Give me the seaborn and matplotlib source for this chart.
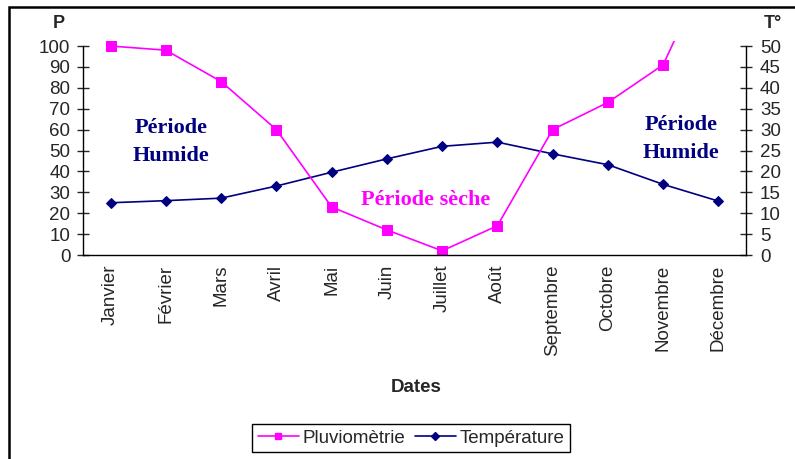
import numpy as np
import pandas as pd
import matplotlib
matplotlib.use("Agg")
import matplotlib.pyplot as plt
from matplotlib.patches import Rectangle
from matplotlib.lines import Line2D
import seaborn as sns

# Données
mois = ["Janvier", "Février", "Mars", "Avril", "Mai", "Juin", "Juillet",
        "Août", "Septembre", "Octobre", "Novembre", "Décembre"]
pluviometrie = [100, 98, 83, 60, 23, 12, 2, 14, 60, 73, 91, 148]
temperature = [12.5, 13, 13.6, 16.5, 19.8, 23, 26, 27, 24.2, 21.6, 16.9, 12.9]

p_ticks = list(range(0, 101, 10))
t_ticks = list(range(0, 51, 5))

sns.set_style("white")
plt.rcParams['font.family'] = ['Liberation Sans', 'DejaVu Sans']

df = pd.DataFrame({"pos": np.arange(len(mois)), "mois": mois,
                   "P": pluviometrie, "T": temperature})

MAGENTA = "#FF00FF"
NAVY = "#000080"

fig = plt.figure(figsize=(7.95, 4.59), dpi=100)
ax = fig.add_axes([83 / 795, 1 - 255 / 459, (746 - 83) / 795, (255 - 41) / 459])
ax2 = ax.twinx()

sns.lineplot(data=df, x="pos", y="P", ax=ax, color=MAGENTA, marker="s",
             markersize=6.5, markeredgecolor=MAGENTA, linewidth=1.2, legend=False)
sns.lineplot(data=df, x="pos", y="T", ax=ax2, color=NAVY, marker="D",
             markersize=5.5, markeredgecolor=NAVY, linewidth=1.2, legend=False)
ax.set_zorder(ax2.get_zorder() + 1)
ax.patch.set_visible(False)

ax.set_xlim(-0.5, len(mois) - 0.5)
ax.set_ylim(0, 102.4)
ax2.set_ylim(0, 51.2)

ax.set_xticks(df["pos"])
ax.set_xticklabels(mois, rotation=90, fontsize=13.5, va="top")
ax.set_xticks(np.arange(-0.5, len(mois), 1), minor=True)
ax.tick_params(axis="x", which="major", length=0, pad=7)
ax.tick_params(axis="x", which="minor", direction="inout", length=8, width=1)

ax.set_yticks(p_ticks)
ax.tick_params(axis="y", direction="inout", length=8, width=1, labelsize=13.5, pad=5)
ax2.set_yticks(t_ticks)
ax2.tick_params(axis="y", direction="inout", length=8, width=1, labelsize=13.5, pad=6)

ax.set_xlabel("")
ax.set_ylabel("")
ax2.set_ylabel("")

for a in (ax, ax2):
    a.spines["top"].set_visible(False)
    for s in ("left", "right", "bottom"):
        a.spines[s].set_color("black")
        a.spines[s].set_linewidth(1)
ax.spines["left"].set_bounds(0, 100)
ax2.spines["right"].set_bounds(0, 50)
ax.spines["right"].set_visible(False)
ax2.spines["left"].set_visible(False)
ax2.spines["bottom"].set_visible(False)

fig.text(416 / 795, 1 - 387 / 459, "Dates", fontsize=13.5, fontweight="bold",
         ha="center", va="center")
fig.text(59 / 795, 1 - 23 / 459, "P", fontsize=13, fontweight="bold", ha="center", va="center")
fig.text(773 / 795, 1 - 23 / 459, "T°", fontsize=13, fontweight="bold", ha="center", va="center")

serif = ['Liberation Serif', 'DejaVu Serif']
fig.text(171 / 795, 1 - 142 / 459, "Période\nHumide", family=serif, fontsize=16,
         fontweight="bold", color=NAVY, ha="center", va="center", linespacing=1.5)
fig.text(681 / 795, 1 - 139 / 459, "Période\nHumide", family=serif, fontsize=16,
         fontweight="bold", color=NAVY, ha="center", va="center", linespacing=1.5)
fig.text(426 / 795, 1 - 200 / 459, "Période sèche", family=serif, fontsize=16,
         fontweight="bold", color=MAGENTA, ha="center", va="center")

handles = [Line2D([], [], color=MAGENTA, marker="s", markersize=5, linewidth=1.2),
           Line2D([], [], color=NAVY, marker="D", markersize=4, linewidth=1.2)]
leg = fig.legend(handles, ["Pluviomètrie", "Température"], loc="center",
                 bbox_to_anchor=(411 / 795, 1 - 438 / 459), ncol=2, fontsize=13.5,
                 frameon=True, fancybox=False, edgecolor="black", framealpha=1,
                 handlelength=2.2, handletextpad=0.2, columnspacing=0.5,
                 borderpad=0.3)
leg.get_frame().set_linewidth(1)

fig.patches.append(Rectangle((9 / 795, -0.1), 1.0, 1 - 7 / 459 + 0.1,
                             transform=fig.transFigure, fill=False,
                             edgecolor="black", linewidth=1.8))

fig.savefig("out.png", dpi=100, facecolor="white")
